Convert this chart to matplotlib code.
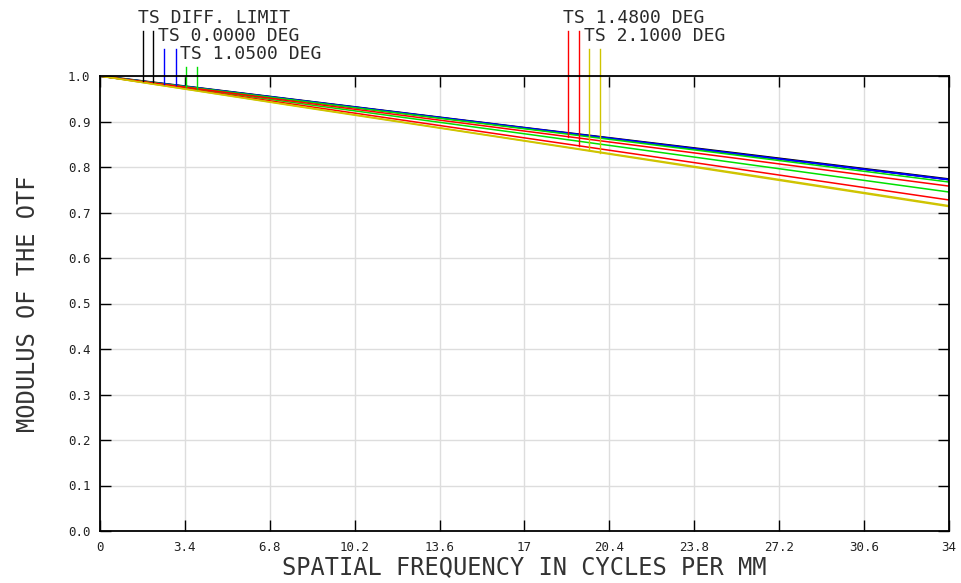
import numpy as np
import matplotlib
matplotlib.use("Agg")
import matplotlib.pyplot as plt

# spatial frequency samples (cycles/mm)
freq = [0, 8.5, 17, 25.5, 34]

# modulus of the OTF for each trace
diff_limit = [1.0, 0.943, 0.886, 0.830, 0.773]
f0_t = [1.0, 0.943, 0.886, 0.829, 0.7725]
f0_s = [1.0, 0.943, 0.886, 0.829, 0.772]
f105_t = [1.0, 0.942, 0.884, 0.826, 0.767]
f105_s = [1.0, 0.936, 0.873, 0.809, 0.745]
f148_t = [1.0, 0.939, 0.879, 0.819, 0.758]
f148_s = [1.0, 0.932, 0.864, 0.796, 0.7275]
f210_t = [1.0, 0.929, 0.858, 0.787, 0.715]
f210_s = [1.0, 0.928, 0.857, 0.785, 0.713]

xticks = [0, 3.4, 6.8, 10.2, 13.6, 17, 20.4, 23.8, 27.2, 30.6, 34]
xticklabels = ["0", "3.4", "6.8", "10.2", "13.6", "17", "20.4", "23.8", "27.2", "30.6", "34"]
yticks = [0.0, 0.1, 0.2, 0.3, 0.4, 0.5, 0.6, 0.7, 0.8, 0.9, 1.0]

yellow = "#cfc400"
series = [
    ("TS DIFF. LIMIT", "black", diff_limit, f0_s),
    ("TS 0.0000 DEG", "#0000ff", f0_t, f0_s),
    ("TS 1.0500 DEG", "#00e000", f105_t, f105_s),
    ("TS 1.4800 DEG", "#ff0000", f148_t, f148_s),
    ("TS 2.1000 DEG", yellow, f210_t, f210_s),
]
# key line positions (x in data units), top of key (y in data units), label anchor
keys = [
    ((1.71, 2.13), 1.10, (1.51, 1.128)),
    ((2.56, 3.03), 1.06, (2.31, 1.088)),
    ((3.44, 3.88), 1.02, (3.20, 1.048)),
    ((18.73, 19.18), 1.10, (18.55, 1.128)),
    ((19.60, 20.04), 1.06, (19.39, 1.088)),
]

fig = plt.figure(figsize=(9.62, 5.83), dpi=100)
ax = fig.add_axes([100 / 962, 52 / 583, 849 / 962, 455 / 583])

ax.plot(freq, diff_limit, color="black", lw=1.6)
for label, color, t, s in series[1:]:
    ax.plot(freq, t, color=color, lw=1.1)
    ax.plot(freq, s, color=color, lw=1.1)

mono = "DejaVu Sans Mono"
for (label, color, t, s), (kx, ktop, (tx, ty)) in zip(series, keys):
    ax.plot([kx[0], kx[0]], [np.interp(kx[0], freq, t), ktop], color=color,
            lw=1.0, clip_on=False)
    ax.plot([kx[1], kx[1]], [np.interp(kx[1], freq, s), ktop], color=color,
            lw=1.0, clip_on=False)
    ax.text(tx, ty, label, fontsize=13, family=mono, color="#2a2a2a",
            va="center", ha="left", clip_on=False)

ax.set_xlim(0, 34)
ax.set_ylim(0, 1.0)
ax.set_xticks(xticks)
ax.set_xticklabels(xticklabels)
ax.set_yticks(yticks)
ax.set_yticklabels([f"{v:.1f}" for v in yticks])
ax.grid(True, color="#dddddd", lw=1)
ax.set_axisbelow(True)
ax.tick_params(direction="in", top=True, right=True, length=8, width=1.0,
               labelsize=9, pad=7)
for lab in ax.get_xticklabels() + ax.get_yticklabels():
    lab.set_family(mono)
    lab.set_color("#222222")
for sp in ax.spines.values():
    sp.set_linewidth(1.3)

ax.set_xlabel("SPATIAL FREQUENCY IN CYCLES PER MM", fontsize=17, family=mono,
              color="#333333", labelpad=1)
ax.set_ylabel("MODULUS OF THE OTF", fontsize=17, family=mono,
              color="#333333", labelpad=20)

fig.savefig("out.png", dpi=100)
plt.close(fig)
